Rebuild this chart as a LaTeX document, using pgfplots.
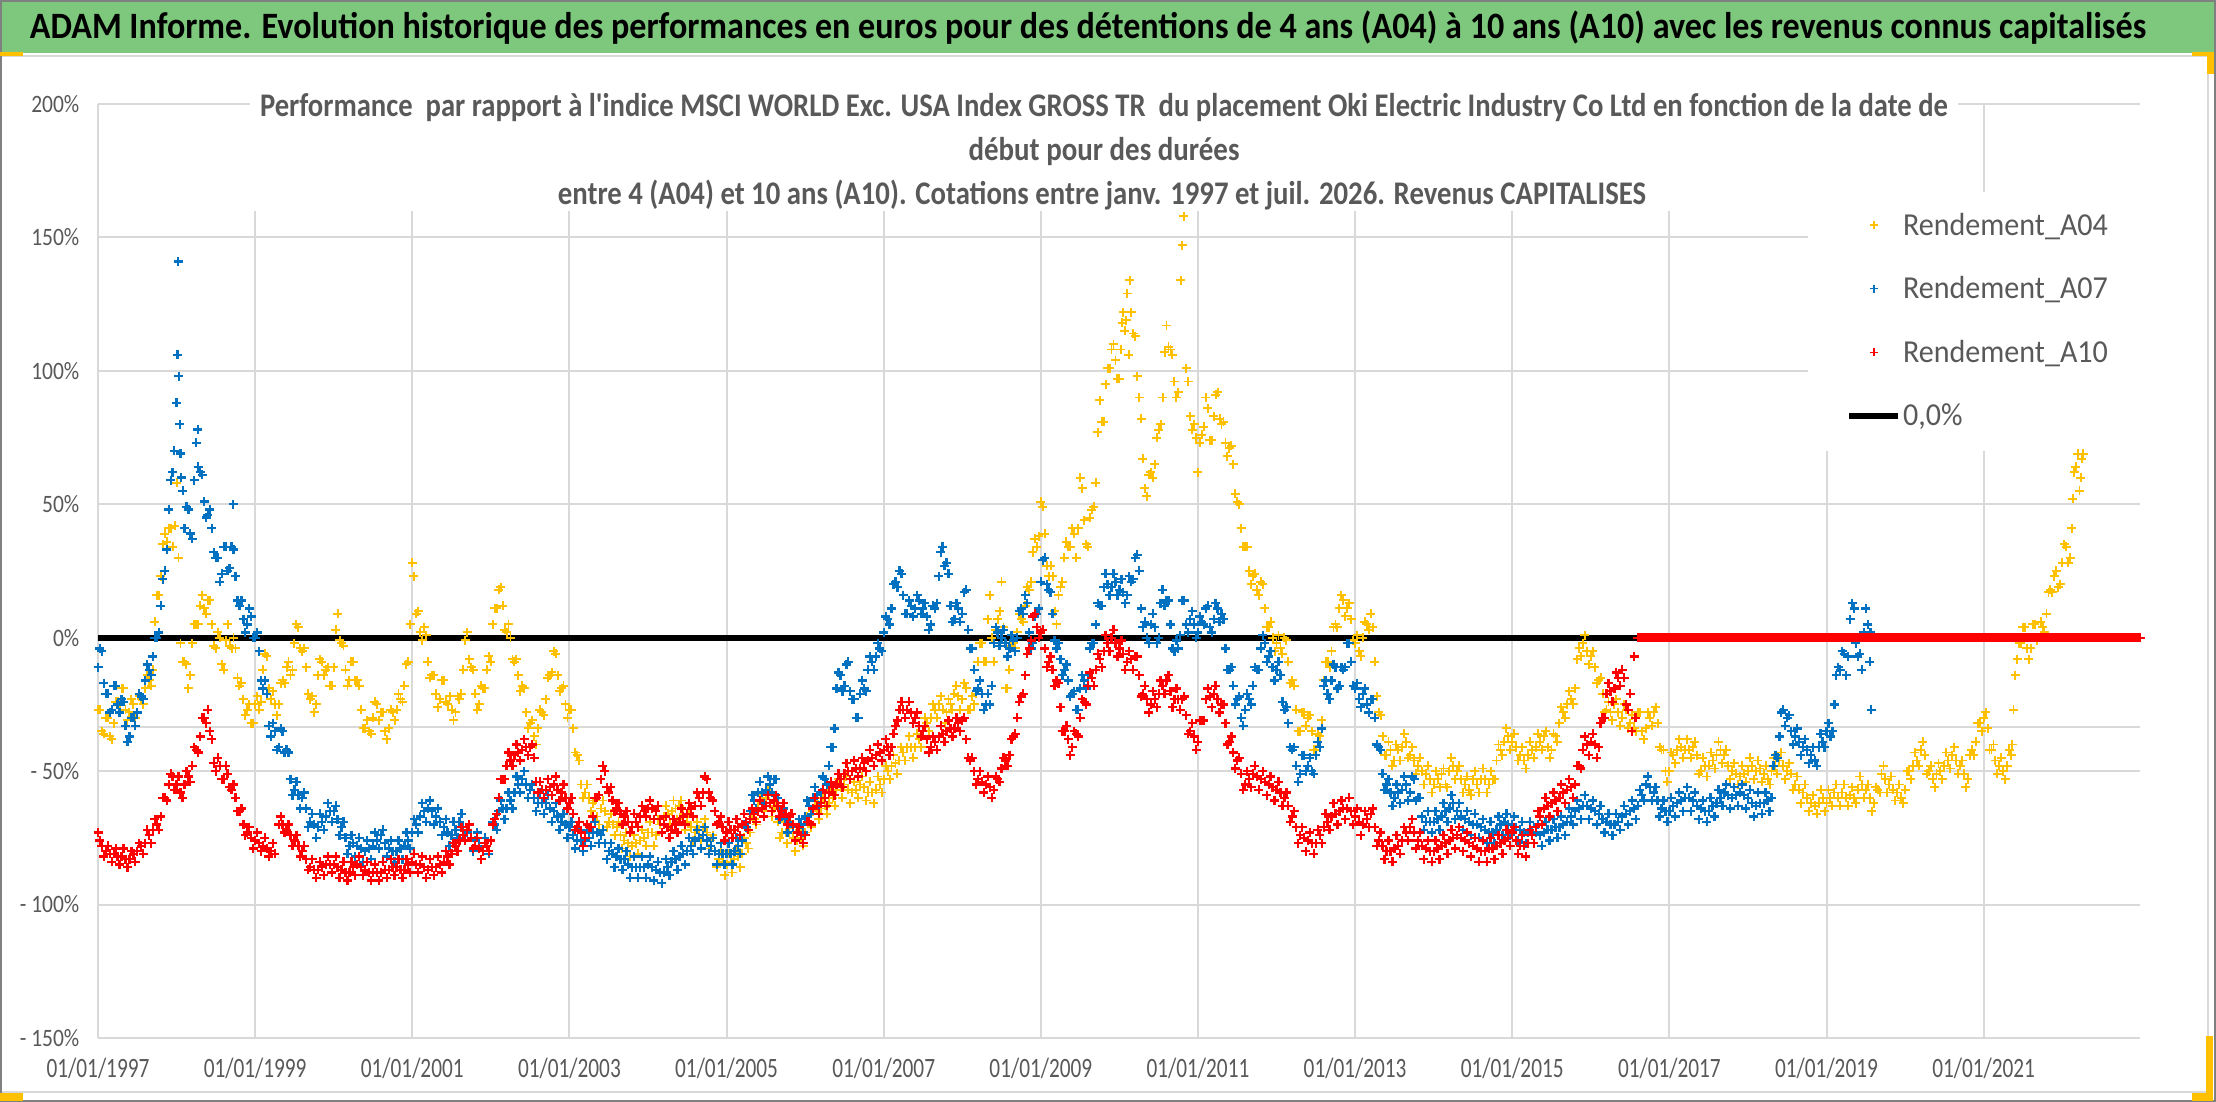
\documentclass[border=0pt]{standalone}
\usepackage{pgfplots}
\pgfplotsset{compat=1.18}
\usepackage{fontspec}
\setmainfont{Carlito}
\newfontfamily\fsub{Carlito}[Ligatures=TeXOff]
\newfontfamily\fxt{Carlito}[FakeStretch=0.76]
\newfontfamily\fyt{Carlito}[FakeStretch=0.86]
\newfontfamily\flg{Carlito}[FakeStretch=0.94]
\definecolor{ygold}{RGB}{255,192,0}
\definecolor{xblue}{RGB}{0,112,192}
\definecolor{xred}{RGB}{255,0,0}
\definecolor{gridgray}{RGB}{217,217,217}
\definecolor{txtgray}{RGB}{89,89,89}
\definecolor{titlegreen}{RGB}{125,200,125}
\definecolor{framegray}{RGB}{128,128,128}
\pgfplotsset{
  mk/.style={only marks, mark=+, mark size=2.25pt, line width=1.15pt,
    legend image code/.code={\path[draw=none,fill=none] (0pt,0pt) -- (24.5pt,0pt); \draw[##1, only marks, line width=0.7pt, mark size=2pt] plot coordinates {(12.5pt,0pt)};}},
  zl/.style={legend image code/.code={\draw[##1] (0pt,0pt) -- (24.5pt,0pt);}},
}
\begin{document}
\begin{tikzpicture}
\useasboundingbox (0,0) rectangle (1108pt,551pt);
\fill[white] (0,0) rectangle (1108pt,551pt);
\draw[gridgray, line width=1pt] (0.5pt,5pt) rectangle (1104pt,523pt);
\fill[titlegreen] (0,524.5pt) rectangle (1108pt,551pt);
\draw[gridgray, line width=1.2pt] (0,523pt) -- (1108pt,523pt);
\draw[framegray, line width=1pt] (0.5pt,0.5pt) rectangle (1107.5pt,550.5pt);
\fill[ygold] (0,523pt) rectangle (11.5pt,525pt);
\fill[ygold] (0,0.5pt) rectangle (11.5pt,4.5pt);
\fill[ygold] (1096pt,523pt) rectangle (1107pt,525pt);
\fill[ygold] (1103.5pt,514pt) rectangle (1107pt,525pt);
\fill[ygold] (1103pt,0.5pt) rectangle (1106.5pt,33pt);
\fill[ygold] (1096pt,0.5pt) rectangle (1106.5pt,4.5pt);
\node[anchor=base, inner sep=0pt] at (544pt,531.5pt) {\resizebox{1058pt}{\height}{\fsub\fontsize{18.6pt}{20pt}\selectfont\bfseries ADAM Informe. Evolution historique des performances en euros pour des détentions de 4 ans (A04) à 10 ans (A10) avec les revenus connus capitalisés}};
\begin{axis}[
  at={(49pt,32pt)}, anchor=south west, scale only axis,
  width=1021pt, height=467pt,
  xmin=1997, xmax=2022.99, ymin=-150, ymax=200,
  clip=false,
  xtick={1997,1999,2001,2003,2005,2007,2009,2011,2013,2015,2017,2019,2021},
  xticklabels={01/01/1997,01/01/1999,01/01/2001,01/01/2003,01/01/2005,01/01/2007,01/01/2009,01/01/2011,01/01/2013,01/01/2015,01/01/2017,01/01/2019,01/01/2021},
  ytick={-150,-100,-50,0,50,100,150,200},
  yticklabels={- 150\%,- 100\%,- 50\%,0\%,50\%,100\%,150\%,200\%},
  grid=major, major grid style={draw=gridgray, line width=1pt},
  axis line style={draw=none}, tick style={draw=none},
  xticklabel style={font=\fxt\fontsize{14pt}{16pt}\selectfont, text=txtgray, yshift=-6.4pt},
  yticklabel style={font=\fyt\fontsize{12.5pt}{14pt}\selectfont, text=txtgray, xshift=-5.8pt},
  legend cell align=left,
  legend style={at={(axis cs:2018.76,167.1)}, anchor=north west, draw=none, fill=none,
    inner xsep=19pt, inner ysep=8.5pt, row sep=15.8pt,
    font=\flg\fontsize{16pt}{18pt}\selectfont,
    nodes={text=txtgray, inner xsep=1pt, inner ysep=0pt, text height=13pt, text depth=3pt}},
]
\fill[white] (axis cs:1998.93,160) rectangle (axis cs:2020.67,203);
\fill[white] (axis cs:2018.76,70) rectangle (axis cs:2023.1,167.1);
\addplot[forget plot, gridgray, line width=1pt] coordinates {(1997,-33.6) (2022.99,-33.6)};
\addplot[forget plot, black, line width=3pt] coordinates {(1997,0) (2022.99,0)};
% Rendement_A04
\addplot[mk, color=ygold, line width=0.95pt] coordinates {
(1997.0,-27) (1997.05,-35) (1997.1,-30) (1997.15,-37) (1997.2,-32) (1997.25,-24) (1997.3,-19) (1997.35,-27) (1997.4,-28) (1997.45,-25)
(1997.5,-28) (1997.55,-23) (1997.6,-19) (1997.65,-16) (1997.7,-12) (1997.75,16) (1997.8,23) (1997.85,39) (1997.9,41) (1997.95,34)
(1998.0,58) (1998.05,-2) (1998.1,-9) (1998.15,-19) (1998.2,-2) (1998.25,5) (1998.3,12) (1998.35,11) (1998.4,14) (1998.45,5)
(1998.5,-4) (1998.55,0) (1998.6,-12) (1998.65,5) (1998.7,-4) (1998.75,-4) (1998.8,-18) (1998.85,-23) (1998.9,-27) (1998.95,-32)
(1999.0,-25) (1999.05,-27) (1999.1,-12) (1999.15,-7) (1999.2,-23) (1999.25,-25) (1999.3,-25) (1999.35,-16) (1999.4,-11) (1999.45,-14)
(1999.5,-2) (1999.55,4) (1999.6,-5) (1999.65,-11) (1999.7,-23) (1999.75,-28) (1999.8,-14) (1999.85,-9) (1999.9,-12) (1999.95,-18)
(2000.0,-11) (2000.05,9) (2000.1,-2) (2000.15,-12) (2000.2,-16) (2000.25,-9) (2000.3,-16) (2000.35,-27) (2000.4,-34) (2000.45,-35)
(2000.5,-30) (2000.55,-25) (2000.6,-28) (2000.65,-35) (2000.7,-34) (2000.75,-28) (2000.8,-27) (2000.85,-23) (2000.9,-18) (2000.95,-9)
(2001.0,28) (2001.02,23) (2001.05,9) (2001.1,2) (2001.15,4) (2001.2,-9) (2001.25,-14) (2001.3,-21) (2001.35,-23) (2001.4,-16)
(2001.45,-25) (2001.5,-27) (2001.55,-28) (2001.6,-23) (2001.65,-12) (2001.7,2) (2001.75,-11) (2001.8,-21) (2001.85,-25) (2001.9,-19)
(2001.95,-12) (2002.0,-9) (2002.05,11) (2002.1,18) (2002.15,12) (2002.2,2) (2002.25,0) (2002.3,-9) (2002.35,-14) (2002.4,-18)
(2002.45,-28) (2002.5,-32) (2002.55,-37) (2002.6,-34) (2002.65,-28) (2002.7,-23) (2002.75,-14) (2002.8,-5) (2002.85,-14) (2002.9,-19)
(2002.95,-25) (2003.0,-27) (2003.05,-34) (2003.1,-44) (2003.15,-55) (2003.2,-58) (2003.25,-60) (2003.3,-62) (2003.35,-67) (2003.4,-64)
(2003.45,-65) (2003.5,-69) (2003.55,-70) (2003.6,-71) (2003.65,-74) (2003.7,-76) (2003.75,-77) (2003.8,-78) (2003.85,-77) (2003.9,-76)
(2003.95,-75) (2004.0,-73) (2004.05,-73) (2004.1,-74) (2004.15,-70) (2004.2,-67) (2004.25,-66) (2004.3,-65) (2004.35,-64) (2004.4,-63)
(2004.45,-66) (2004.5,-69) (2004.55,-71) (2004.6,-73) (2004.65,-72) (2004.7,-71) (2004.75,-73) (2004.8,-76) (2004.85,-80) (2004.9,-83)
(2004.95,-84) (2005.0,-85) (2005.05,-84) (2005.1,-83) (2005.15,-82) (2005.2,-81) (2005.25,-77) (2005.3,-73) (2005.35,-68) (2005.4,-64)
(2005.45,-62) (2005.5,-60) (2005.55,-62) (2005.6,-64) (2005.65,-69) (2005.7,-73) (2005.75,-73) (2005.8,-73) (2005.85,-75) (2005.9,-76)
(2005.95,-75) (2006.0,-73) (2006.05,-69) (2006.1,-65) (2006.15,-64) (2006.2,-64) (2006.25,-63) (2006.3,-62) (2006.35,-60) (2006.4,-57)
(2006.45,-56) (2006.5,-55) (2006.55,-57) (2006.6,-58) (2006.65,-57) (2006.7,-55) (2006.75,-56) (2006.8,-58) (2006.85,-58) (2006.9,-57)
(2006.95,-55) (2007.0,-53) (2007.05,-50) (2007.1,-48) (2007.15,-47) (2007.2,-46) (2007.25,-43) (2007.3,-41) (2007.35,-41) (2007.4,-41)
(2007.45,-38) (2007.5,-35) (2007.55,-32) (2007.6,-30) (2007.65,-27) (2007.7,-25) (2007.75,-27) (2007.8,-28) (2007.85,-25) (2007.9,-21)
(2007.95,-22) (2008.0,-23) (2008.05,-19) (2008.1,-27) (2008.15,-25)
(2008.2,-9) (2008.25,-2) (2008.3,-9) (2008.35,16) (2008.4,-9) (2008.45,7) (2008.5,21) (2008.55,-19) (2008.6,-12) (2008.65,-2)
(2008.7,2) (2008.75,7) (2008.8,12) (2008.85,18) (2008.9,32) (2008.95,34) (2009.0,51) (2009.05,39) (2009.1,23) (2009.15,23)
(2009.2,5) (2009.25,19) (2009.3,30) (2009.35,34) (2009.4,41) (2009.45,30) (2009.5,60) (2009.55,44) (2009.6,34) (2009.65,48)
(2009.7,58) (2009.75,89) (2009.8,81) (2009.85,101) (2009.9,108) (2009.95,104) (2010.0,97) (2010.02,108) (2010.05,122) (2010.07,115)
(2010.1,129) (2010.12,106) (2010.13,134) (2010.15,122) (2010.2,113) (2010.25,90) (2010.3,67) (2010.35,53) (2010.4,62) (2010.45,65)
(2010.5,78) (2010.55,90) (2010.6,117) (2010.65,108) (2010.7,96) (2010.75,92) (2010.78,134) (2010.8,147) (2010.82,158) (2010.85,101)
(2010.9,83) (2010.95,80) (2011.0,62) (2011.05,76) (2011.1,90) (2011.15,74) (2011.2,83) (2011.25,92) (2011.3,80) (2011.35,73)
(2011.4,71) (2011.45,65) (2011.5,51) (2011.55,41) (2011.6,34) (2011.65,25) (2011.7,23) (2011.75,18) (2011.8,21) (2011.85,11)
(2011.9,4) (2011.95,0) (2012.0,-2) (2012.05,-4) (2012.1,0) (2012.15,-9) (2012.2,-16) (2012.25,-27) (2012.3,-35) (2012.35,-28)
(2012.4,-30) (2012.45,-35) (2012.5,-42) (2012.55,-37) (2012.6,-16) (2012.65,-9) (2012.7,-5) (2012.75,5) (2012.8,11) (2012.85,14)
(2012.9,11) (2012.95,7) (2013.0,-2) (2013.05,-5) (2013.1,0) (2013.15,5) (2013.2,9) (2013.25,-9) (2013.3,-28) (2013.35,-37)
(2013.4,-44) (2013.45,-42) (2013.5,-46) (2013.55,-42) (2013.6,-41) (2013.65,-39) (2013.7,-44) (2013.75,-46) (2013.8,-48) (2013.85,-50)
(2013.9,-51) (2013.95,-53) (2014.0,-55) (2014.05,-53) (2014.1,-51) (2014.15,-55) (2014.2,-50) (2014.25,-48) (2014.3,-50) (2014.35,-53)
(2014.4,-55) (2014.45,-57) (2014.5,-53) (2014.55,-55) (2014.6,-53) (2014.65,-53) (2014.7,-55) (2014.75,-53) (2014.8,-46) (2014.85,-42)
(2014.9,-39) (2014.95,-37) (2015.0,-39) (2015.05,-41) (2015.1,-44) (2015.15,-46) (2015.2,-44) (2015.25,-42) (2015.3,-41) (2015.35,-39)
(2015.4,-37) (2015.45,-41) (2015.5,-42) (2015.55,-37) (2015.6,-32) (2015.65,-28) (2015.7,-25) (2015.75,-23) (2015.8,-19) (2015.85,-4)
(2015.9,-2) (2015.95,-5) (2016.0,-7) (2016.05,-11) (2016.1,-16) (2016.15,-21) (2016.2,-27) (2016.25,-28) (2016.3,-25) (2016.35,-28)
(2016.4,-30) (2016.45,-27) (2016.5,-32) (2016.55,-34) (2016.6,-28) (2016.65,-35) (2016.7,-34) (2016.75,-30) (2016.8,-28) (2016.85,-32)
(2016.9,-42) (2016.95,-50) (2017.0,-50) (2017.05,-44) (2017.1,-42) (2017.15,-41) (2017.2,-42) (2017.25,-42) (2017.3,-41) (2017.35,-44)
(2017.4,-50) (2017.45,-48) (2017.5,-48) (2017.55,-46) (2017.6,-44) (2017.65,-42) (2017.7,-44) (2017.75,-48) (2017.8,-50) (2017.85,-51)
(2017.9,-52) (2017.95,-51) (2018.0,-50) (2018.05,-48) (2018.1,-50) (2018.15,-49) (2018.2,-51) (2018.25,-53) (2018.3,-50) (2018.35,-48)
(2018.4,-46) (2018.45,-48) (2018.5,-50) (2018.55,-51) (2018.6,-55) (2018.65,-57) (2018.7,-58) (2018.75,-60) (2018.8,-62) (2018.85,-63)
(2018.9,-62) (2018.95,-60) (2019.0,-62) (2019.05,-60) (2019.1,-58) (2019.15,-60) (2019.2,-58) (2019.25,-60) (2019.3,-59) (2019.35,-60)
(2019.4,-57) (2019.45,-55) (2019.5,-57) (2019.55,-60) (2019.6,-62) (2019.65,-57) (2019.7,-51) (2019.75,-53) (2019.8,-55) (2019.85,-57)
(2019.9,-58) (2019.95,-60) (2020.0,-57) (2020.05,-50) (2020.1,-48) (2020.15,-46) (2020.2,-42) (2020.25,-44) (2020.3,-50) (2020.35,-53)
(2020.4,-51) (2020.45,-50) (2020.5,-48) (2020.55,-46) (2020.6,-44) (2020.65,-46) (2020.7,-48) (2020.75,-51) (2020.8,-53) (2020.85,-42)
(2020.9,-39) (2020.95,-32) (2021.0,-30) (2021.05,-34) (2021.1,-42) (2021.15,-46) (2021.2,-48) (2021.25,-50) (2021.3,-48) (2021.35,-44)
(2021.38,-27) (2021.4,-14) (2021.45,-2) (2021.5,4) (2021.55,-4) (2021.6,-4) (2021.65,5) (2021.7,0) (2021.75,4) (2021.8,9)
(2021.85,18) (2021.9,23) (2021.95,19) (2022.0,28) (2022.05,34) (2022.1,30) (2022.12,41) (2022.15,62) (2022.2,69) (2022.22,55)
(2022.25,67) (2022.27,69)
};
\addlegendentry{Rendement\_A04}
\addplot[mk, color=ygold, line width=0.95pt, forget plot] coordinates {
(1997.025,-27) (1997.075,-36) (1997.125,-30) (1997.175,-38) (1997.225,-24) (1997.275,-25) (1997.325,-19) (1997.375,-31) (1997.425,-23) (1997.475,-30)
(1997.525,-22) (1997.575,-25) (1997.625,-14) (1997.675,-18) (1997.725,6) (1997.775,16) (1997.825,35) (1997.875,36) (1997.925,41) (1997.975,42)
(1998.025,30) (1998.075,-9) (1998.125,-10) (1998.175,-14) (1998.225,5) (1998.275,5) (1998.325,16) (1998.375,9) (1998.425,14) (1998.475,-3)
(1998.525,2) (1998.575,-10) (1998.625,-1) (1998.675,-3) (1998.725,0) (1998.775,-15) (1998.825,-17) (1998.875,-29) (1998.925,-25) (1998.975,-32)
(1999.025,-22) (1999.075,-24) (1999.125,-6) (1999.175,-19) (1999.225,-20) (1999.275,-29) (1999.325,-17) (1999.375,-17) (1999.425,-9) (1999.475,-12)
(1999.525,5) (1999.575,-4) (1999.625,-4) (1999.675,-21) (1999.725,-22) (1999.775,-25) (1999.825,-8) (1999.875,-14) (1999.925,-11) (1999.975,-18)
(2000.025,3) (2000.075,-1) (2000.125,-3) (2000.175,-18) (2000.225,-9) (2000.275,-16) (2000.325,-18) (2000.375,-34) (2000.425,-31) (2000.475,-36)
(2000.525,-24) (2000.575,-31) (2000.625,-28) (2000.675,-38) (2000.725,-27) (2000.775,-31) (2000.825,-21) (2000.875,-24) (2000.925,-10) (2000.975,5)
(2001.075,10) (2001.125,-1) (2001.175,1) (2001.225,-15) (2001.275,-14) (2001.325,-26) (2001.375,-16) (2001.425,-24) (2001.475,-22) (2001.525,-31)
(2001.575,-22) (2001.625,-21) (2001.675,-1) (2001.725,-8) (2001.775,-12) (2001.825,-27) (2001.875,-18) (2001.925,-19) (2001.975,-7)
(2002.025,5) (2002.075,11) (2002.125,19) (2002.175,3) (2002.225,5) (2002.275,-8) (2002.325,-8) (2002.375,-20) (2002.425,-19) (2002.475,-34)
(2002.525,-31) (2002.575,-40) (2002.625,-27) (2002.675,-29) (2002.725,-15) (2002.775,-13) (2002.825,-6) (2002.875,-20) (2002.925,-18) (2002.975,-30)
(2003.025,-27) (2003.075,-43) (2003.125,-46) (2003.175,-60) (2003.225,-55) (2003.275,-65) (2003.325,-61) (2003.375,-70) (2003.425,-61) (2003.475,-71)
(2003.525,-66) (2003.575,-74) (2003.625,-69) (2003.675,-79) (2003.725,-73) (2003.775,-82) (2003.825,-74) (2003.875,-81) (2003.925,-72) (2003.975,-78)
(2004.025,-69) (2004.075,-78) (2004.125,-68) (2004.175,-73) (2004.225,-63) (2004.275,-70) (2004.325,-61) (2004.375,-68) (2004.425,-61) (2004.475,-72)
(2004.525,-66) (2004.575,-76) (2004.625,-69) (2004.675,-76) (2004.725,-68) (2004.775,-79) (2004.825,-74) (2004.875,-86) (2004.925,-80) (2004.975,-89)
(2005.025,-81) (2005.075,-88) (2005.125,-79) (2005.175,-86) (2005.225,-75) (2005.275,-79) (2005.325,-67) (2005.375,-70) (2005.425,-59) (2005.475,-65)
(2005.525,-57) (2005.575,-67) (2005.625,-63) (2005.675,-75) (2005.725,-69) (2005.775,-77) (2005.825,-70) (2005.875,-80) (2005.925,-72) (2005.975,-78)
(2006.025,-67) (2006.075,-71) (2006.125,-61) (2006.175,-68) (2006.225,-60) (2006.275,-66) (2006.325,-57) (2006.375,-63) (2006.425,-53) (2006.475,-60)
(2006.525,-52) (2006.575,-62) (2006.625,-54) (2006.675,-60) (2006.725,-52) (2006.775,-61) (2006.825,-54) (2006.875,-62) (2006.925,-52) (2006.975,-58)
(2007.025,-48) (2007.075,-53) (2007.125,-44) (2007.175,-51) (2007.225,-41) (2007.275,-46) (2007.325,-37) (2007.375,-45) (2007.425,-36) (2007.475,-41)
(2007.525,-30) (2007.575,-35) (2007.625,-25) (2007.675,-30) (2007.725,-22) (2007.775,-32) (2007.825,-23) (2007.875,-27) (2007.925,-18) (2007.975,-27)
(2008.025,-17) (2008.075,-27) (2008.125,-22) (2008.175,-21) (2008.225,-2) (2008.275,-9) (2008.325,7) (2008.375,0) (2008.425,3) (2008.475,10)
(2008.525,4) (2008.575,-19) (2008.625,-3) (2008.675,-4) (2008.725,9) (2008.775,6) (2008.825,19) (2008.875,21) (2008.925,37) (2008.975,38)
(2009.025,49) (2009.075,27) (2009.125,27) (2009.175,10) (2009.225,16) (2009.275,21) (2009.325,36) (2009.375,34) (2009.425,39) (2009.475,41)
(2009.525,56) (2009.575,35) (2009.625,45) (2009.675,49) (2009.725,77) (2009.775,81) (2009.825,95) (2009.875,101) (2009.925,110) (2009.975,97)
(2010.035,118) (2010.085,119) (2010.175,114) (2010.225,98) (2010.275,82) (2010.325,56) (2010.375,61) (2010.425,60) (2010.475,75) (2010.525,80)
(2010.575,107) (2010.625,109) (2010.675,106) (2010.725,90) (2010.875,96) (2010.925,78) (2010.975,75)
(2011.025,73) (2011.075,79) (2011.125,86) (2011.175,74) (2011.225,91) (2011.275,82) (2011.325,81) (2011.375,68) (2011.425,72) (2011.475,54)
(2011.525,50) (2011.575,34) (2011.625,34) (2011.675,20) (2011.725,24) (2011.775,16) (2011.825,20) (2011.875,4) (2011.925,6) (2011.975,-5)
(2012.025,1) (2012.075,-6) (2012.125,-1) (2012.175,-17) (2012.225,-18) (2012.275,-35) (2012.325,-28) (2012.375,-33) (2012.425,-29) (2012.475,-42)
(2012.525,-36) (2012.575,-31) (2012.625,-9) (2012.675,-11) (2012.725,4) (2012.775,4) (2012.825,16) (2012.875,8) (2012.925,13) (2012.975,-1)
(2013.025,1) (2013.075,-7) (2013.125,6) (2013.175,3) (2013.225,4) (2013.275,-22) (2013.325,-29) (2013.375,-44) (2013.425,-39) (2013.475,-48)
(2013.525,-40) (2013.575,-46) (2013.625,-36) (2013.675,-45) (2013.725,-41) (2013.775,-51) (2013.825,-45) (2013.875,-55) (2013.925,-48) (2013.975,-58)
(2014.025,-50) (2014.075,-56) (2014.125,-49) (2014.175,-56) (2014.225,-45) (2014.275,-53) (2014.325,-48) (2014.375,-58) (2014.425,-52) (2014.475,-59)
(2014.525,-50) (2014.575,-58) (2014.625,-49) (2014.675,-58) (2014.725,-50) (2014.775,-53) (2014.825,-40) (2014.875,-44) (2014.925,-34) (2014.975,-42)
(2015.025,-36) (2015.075,-46) (2015.125,-41) (2015.175,-49) (2015.225,-39) (2015.275,-45) (2015.325,-36) (2015.375,-42) (2015.425,-35) (2015.475,-45)
(2015.525,-36) (2015.575,-39) (2015.625,-26) (2015.675,-30) (2015.725,-20) (2015.775,-25) (2015.825,-8) (2015.875,-7) (2015.925,1) (2015.975,-10)
(2016.025,-5) (2016.075,-17) (2016.125,-15) (2016.175,-28) (2016.225,-24) (2016.275,-31) (2016.325,-23) (2016.375,-33) (2016.425,-25) (2016.475,-34)
(2016.525,-29) (2016.575,-35) (2016.625,-28) (2016.675,-38) (2016.725,-28) (2016.775,-33) (2016.825,-26) (2016.875,-41) (2016.925,-42) (2016.975,-54)
(2017.025,-43) (2017.075,-47) (2017.125,-38) (2017.175,-45) (2017.225,-38) (2017.275,-45) (2017.325,-39) (2017.375,-51) (2017.425,-45) (2017.475,-52)
(2017.525,-43) (2017.575,-49) (2017.625,-39) (2017.675,-47) (2017.725,-42) (2017.775,-53) (2017.825,-47) (2017.875,-55) (2017.925,-48) (2017.975,-54)
(2018.025,-45) (2018.075,-53) (2018.125,-46) (2018.175,-54) (2018.225,-48) (2018.275,-55) (2018.325,-45) (2018.375,-51) (2018.425,-43) (2018.475,-53)
(2018.525,-47) (2018.575,-57) (2018.625,-52) (2018.675,-62) (2018.725,-55) (2018.775,-65) (2018.825,-59) (2018.875,-66) (2018.925,-57) (2018.975,-65)
(2019.025,-57) (2019.075,-63) (2019.125,-55) (2019.175,-63) (2019.225,-55) (2019.275,-63) (2019.325,-56) (2019.375,-62) (2019.425,-52) (2019.475,-60)
(2019.525,-55) (2019.575,-65) (2019.625,-56) (2019.675,-58) (2019.725,-48) (2019.775,-58) (2019.825,-52) (2019.875,-61) (2019.925,-55) (2019.975,-62)
(2020.025,-50) (2020.075,-53) (2020.125,-43) (2020.175,-48) (2020.225,-39) (2020.275,-51) (2020.325,-48) (2020.375,-56) (2020.425,-47) (2020.475,-53)
(2020.525,-43) (2020.575,-49) (2020.625,-41) (2020.675,-51) (2020.725,-46) (2020.775,-56) (2020.825,-44) (2020.875,-44) (2020.925,-32) (2020.975,-35)
(2021.025,-28) (2021.075,-42) (2021.125,-40) (2021.175,-51) (2021.225,-45) (2021.275,-53) (2021.325,-42) (2021.365,-40) (2021.425,-8) (2021.475,-2)
(2021.525,4) (2021.575,-8) (2021.625,5) (2021.675,-1) (2021.725,6) (2021.775,2) (2021.825,17) (2021.875,17) (2021.925,25) (2021.975,20)
(2022.025,35) (2022.075,28) (2022.135,52) (2022.175,64) (2022.235,60)
};
% Rendement_A07
\addplot[mk, color=xblue] coordinates {
(1997.0,-11) (1997.05,-5) (1997.1,-21) (1997.15,-28) (1997.2,-18) (1997.25,-25) (1997.3,-23) (1997.35,-33) (1997.4,-37) (1997.45,-30)
(1997.5,-28) (1997.55,-22) (1997.6,-16) (1997.65,-12) (1997.7,-7) (1997.75,0) (1997.8,12) (1997.85,25) (1997.9,48) (1997.95,62)
(1997.97,70) (1998.0,88) (1998.01,106) (1998.02,141) (1998.03,98) (1998.05,69) (1998.08,55) (1998.1,41) (1998.15,48) (1998.2,37)
(1998.25,73) (1998.27,78) (1998.3,62) (1998.35,51) (1998.4,46) (1998.45,41) (1998.5,30) (1998.55,21) (1998.6,34) (1998.65,25)
(1998.7,34) (1998.72,50) (1998.75,23) (1998.8,12) (1998.85,7) (1998.9,5) (1998.95,8) (1999.0,0) (1999.05,-5) (1999.1,-19)
(1999.15,-21) (1999.2,-37) (1999.25,-35) (1999.3,-41) (1999.35,-35) (1999.4,-42) (1999.45,-53) (1999.5,-57) (1999.55,-59) (1999.6,-60)
(1999.65,-64) (1999.7,-69) (1999.75,-70) (1999.8,-71) (1999.85,-69) (1999.9,-67) (1999.95,-65) (2000.0,-65) (2000.05,-68) (2000.1,-71)
(2000.15,-75) (2000.2,-78) (2000.25,-77) (2000.3,-78) (2000.35,-79) (2000.4,-80) (2000.45,-79) (2000.5,-78) (2000.55,-76) (2000.6,-74)
(2000.65,-77) (2000.7,-79) (2000.75,-80) (2000.8,-80) (2000.85,-79) (2000.9,-78) (2000.95,-76) (2001.0,-73) (2001.05,-70) (2001.1,-67)
(2001.15,-65) (2001.2,-64) (2001.25,-65) (2001.3,-67) (2001.35,-69) (2001.4,-71) (2001.45,-73) (2001.5,-74) (2001.55,-72) (2001.6,-69)
(2001.65,-71) (2001.7,-73) (2001.75,-75) (2001.8,-76) (2001.85,-78) (2001.9,-80) (2001.95,-78) (2002.0,-76) (2002.05,-70) (2002.1,-65)
(2002.15,-64) (2002.2,-64) (2002.25,-61) (2002.3,-58) (2002.35,-55) (2002.4,-53) (2002.45,-55) (2002.5,-57) (2002.55,-60) (2002.6,-62)
(2002.65,-62) (2002.7,-62) (2002.75,-64) (2002.8,-65) (2002.85,-67) (2002.9,-69) (2002.95,-70) (2003.0,-71) (2003.05,-74) (2003.1,-76)
(2003.15,-76) (2003.2,-76) (2003.25,-75) (2003.3,-73) (2003.35,-73) (2003.4,-74) (2003.45,-77) (2003.5,-80) (2003.55,-81) (2003.6,-82)
(2003.65,-83) (2003.7,-83) (2003.75,-85) (2003.8,-86) (2003.85,-86) (2003.9,-86) (2003.95,-86) (2004.0,-85) (2004.05,-86) (2004.1,-87)
(2004.15,-88) (2004.2,-88) (2004.25,-86) (2004.3,-84) (2004.35,-83) (2004.4,-82) (2004.45,-81) (2004.5,-80) (2004.55,-78) (2004.6,-76)
(2004.65,-75) (2004.7,-74) (2004.75,-76) (2004.8,-78) (2004.85,-80) (2004.9,-81) (2004.95,-81) (2005.0,-81) (2005.05,-81) (2005.1,-80)
(2005.15,-78) (2005.2,-76) (2005.25,-71) (2005.3,-65) (2005.35,-61) (2005.4,-58) (2005.45,-58) (2005.5,-57) (2005.55,-55) (2005.6,-53)
(2005.65,-60) (2005.7,-67) (2005.75,-68) (2005.8,-69) (2005.85,-71) (2005.9,-73) (2005.95,-70) (2006.0,-67) (2006.05,-63) (2006.1,-60)
(2006.15,-59) (2006.2,-58) (2006.25,-53) (2006.3,-48) (2006.35,-41) (2006.4,-19) (2006.45,-14) (2006.5,-18) (2006.55,-9) (2006.6,-23) (2006.65,-30)
(2006.7,-21) (2006.75,-19) (2006.8,-12) (2006.85,-9) (2006.9,-7) (2006.95,-4) (2007.0,2) (2007.05,7) (2007.1,11) (2007.15,21)
(2007.2,25) (2007.25,16) (2007.3,9) (2007.35,12) (2007.4,11) (2007.45,14) (2007.5,11) (2007.55,8) (2007.6,5) (2007.65,11)
(2007.7,23) (2007.75,34) (2007.8,28) (2007.85,12) (2007.9,7) (2007.95,11) (2008.0,9) (2008.05,18) (2008.1,-4) (2008.15,-12)
(2008.2,-19) (2008.25,-21) (2008.3,-25) (2008.35,-25) (2008.4,-2) (2008.45,2) (2008.5,0) (2008.55,-2) (2008.6,-4) (2008.65,-1)
(2008.7,0) (2008.75,11) (2008.8,16) (2008.85,2) (2008.9,-2) (2008.95,9) (2009.0,21) (2009.05,30) (2009.1,18) (2009.15,9)
(2009.2,-4) (2009.25,-8) (2009.3,-12) (2009.35,-16) (2009.4,-21) (2009.45,-27) (2009.5,-19) (2009.55,-16) (2009.6,-14) (2009.65,-2)
(2009.7,5) (2009.75,12) (2009.8,19) (2009.85,20) (2009.9,19) (2009.95,21) (2010.0,18) (2010.05,17) (2010.1,16) (2010.15,21)
(2010.2,30) (2010.25,25) (2010.3,4) (2010.35,0) (2010.4,5) (2010.45,4) (2010.5,0) (2010.55,18) (2010.6,14) (2010.65,5)
(2010.7,-5) (2010.75,-4) (2010.8,14) (2010.85,5) (2010.9,7) (2010.95,5) (2011.0,2) (2011.05,6) (2011.1,11) (2011.15,4)
(2011.2,7) (2011.25,11) (2011.3,9) (2011.35,-4) (2011.4,-12) (2011.45,-18) (2011.5,-23) (2011.55,-30) (2011.6,-27) (2011.65,-23)
(2011.7,-18) (2011.75,-12) (2011.8,-4) (2011.85,-2) (2011.9,-7) (2011.95,-11) (2012.0,-12) (2012.05,-14) (2012.1,-27) (2012.15,-32)
(2012.2,-42) (2012.25,-48) (2012.3,-51) (2012.35,-44) (2012.4,-48) (2012.45,-50) (2012.5,-44) (2012.55,-41) (2012.6,-18) (2012.65,-21)
(2012.7,-16) (2012.75,-11) (2012.8,-18) (2012.85,-12) (2012.9,-2) (2012.95,-9) (2013.0,-19) (2013.05,-23) (2013.1,-21) (2013.15,-25)
(2013.2,-23) (2013.25,-30) (2013.3,-41) (2013.35,-51) (2013.4,-55) (2013.45,-58) (2013.5,-60) (2013.55,-58) (2013.6,-57) (2013.65,-55)
(2013.7,-58) (2013.75,-53) (2013.8,-60) (2013.85,-67) (2013.9,-69) (2013.95,-69) (2014.0,-69) (2014.05,-68) (2014.1,-67) (2014.15,-65)
(2014.2,-64) (2014.25,-62) (2014.3,-65) (2014.35,-67) (2014.4,-68) (2014.45,-69) (2014.5,-70) (2014.55,-70) (2014.6,-71) (2014.65,-72)
(2014.7,-73) (2014.75,-73) (2014.8,-72) (2014.85,-70) (2014.9,-69) (2014.95,-70) (2015.0,-70) (2015.05,-71) (2015.1,-72) (2015.15,-73)
(2015.2,-73) (2015.25,-73) (2015.3,-73) (2015.35,-74) (2015.4,-73) (2015.45,-72) (2015.5,-72) (2015.55,-71) (2015.6,-71) (2015.65,-70)
(2015.7,-69) (2015.75,-67) (2015.8,-65) (2015.85,-64) (2015.9,-63) (2015.95,-63) (2016.0,-64) (2016.05,-65) (2016.1,-66) (2016.15,-68)
(2016.2,-69) (2016.25,-70) (2016.3,-70) (2016.35,-69) (2016.4,-67) (2016.45,-66) (2016.5,-65) (2016.55,-64) (2016.6,-63) (2016.65,-59)
(2016.7,-55) (2016.75,-56) (2016.8,-58) (2016.85,-61) (2016.9,-64) (2016.95,-65) (2017.0,-65) (2017.05,-63) (2017.1,-62) (2017.15,-61)
(2017.2,-60) (2017.25,-60) (2017.3,-61) (2017.35,-63) (2017.4,-64) (2017.45,-65) (2017.5,-65) (2017.55,-63) (2017.6,-62) (2017.65,-60)
(2017.7,-58) (2017.75,-59) (2017.8,-60) (2017.85,-59) (2017.9,-58) (2017.95,-59) (2018.0,-60) (2018.05,-62) (2018.1,-63) (2018.15,-62)
(2018.2,-62) (2018.25,-61) (2018.3,-60) (2018.35,-44) (2018.4,-37) (2018.45,-27) (2018.5,-30) (2018.55,-35) (2018.6,-37) (2018.65,-39)
(2018.7,-41) (2018.75,-42) (2018.8,-44) (2018.85,-46) (2018.9,-41) (2018.95,-39) (2019.0,-35) (2019.05,-37) (2019.1,-25) (2019.15,-11)
(2019.2,-5) (2019.25,-14) (2019.3,7) (2019.35,11) (2019.4,-7) (2019.45,-12) (2019.5,11) (2019.55,-9) (2019.57,-27)
};
\addlegendentry{Rendement\_A07}
\addplot[mk, color=xblue, forget plot] coordinates {
(1997.025,-4) (1997.075,-17) (1997.125,-21) (1997.175,-27) (1997.225,-18) (1997.275,-28) (1997.325,-24) (1997.375,-39) (1997.425,-30) (1997.475,-33)
(1997.525,-21) (1997.575,-23) (1997.625,-10) (1997.675,-14) (1997.725,0) (1997.775,2) (1997.825,22) (1997.875,33) (1997.925,59) (1998.04,80) (1998.06,60)
(1998.125,49) (1998.175,39) (1998.225,59) (1998.275,64) (1998.325,61) (1998.375,45) (1998.425,48) (1998.475,32) (1998.525,30) (1998.575,24)
(1998.625,34) (1998.675,26) (1998.725,33) (1998.775,14) (1998.825,14) (1998.875,2) (1998.925,11) (1998.975,0)
(1999.025,2) (1999.075,-16) (1999.125,-16) (1999.175,-33) (1999.225,-32) (1999.275,-42) (1999.325,-34) (1999.375,-43) (1999.425,-43) (1999.475,-59)
(1999.525,-54) (1999.575,-64) (1999.625,-58) (1999.675,-71) (1999.725,-66) (1999.775,-75) (1999.825,-66) (1999.875,-72) (1999.925,-62) (1999.975,-69)
(2000.025,-63) (2000.075,-74) (2000.125,-69) (2000.175,-81) (2000.225,-74) (2000.275,-82) (2000.325,-75) (2000.375,-84) (2000.425,-76) (2000.475,-83)
(2000.525,-73) (2000.575,-79) (2000.625,-72) (2000.675,-82) (2000.725,-76) (2000.775,-84) (2000.825,-76) (2000.875,-83) (2000.925,-73) (2000.975,-79)
(2001.025,-68) (2001.075,-73) (2001.125,-62) (2001.175,-69) (2001.225,-61) (2001.275,-70) (2001.325,-64) (2001.375,-74) (2001.425,-68) (2001.475,-78)
(2001.525,-69) (2001.575,-75) (2001.625,-66) (2001.675,-76) (2001.725,-70) (2001.775,-80) (2001.825,-73) (2001.875,-83) (2001.925,-75) (2001.975,-81)
(2002.025,-69) (2002.075,-72) (2002.125,-61) (2002.175,-68) (2002.225,-58) (2002.275,-64) (2002.325,-52) (2002.375,-58) (2002.425,-50) (2002.475,-60)
(2002.525,-55) (2002.575,-65) (2002.625,-58) (2002.675,-66) (2002.725,-59) (2002.775,-69) (2002.825,-62) (2002.875,-72) (2002.925,-66) (2002.975,-75)
(2003.025,-69) (2003.075,-79) (2003.125,-72) (2003.175,-80) (2003.225,-72) (2003.275,-78) (2003.325,-69) (2003.375,-77) (2003.425,-72) (2003.475,-83)
(2003.525,-77) (2003.575,-86) (2003.625,-79) (2003.675,-87) (2003.725,-80) (2003.775,-90) (2003.825,-82) (2003.875,-90) (2003.925,-82) (2003.975,-90)
(2004.025,-82) (2004.075,-91) (2004.125,-84) (2004.175,-92) (2004.225,-83) (2004.275,-89) (2004.325,-80) (2004.375,-87) (2004.425,-78) (2004.475,-85)
(2004.525,-75) (2004.575,-81) (2004.625,-72) (2004.675,-79) (2004.725,-71) (2004.775,-81) (2004.825,-75) (2004.875,-85) (2004.925,-77) (2004.975,-85)
(2005.025,-77) (2005.075,-85) (2005.125,-75) (2005.175,-81) (2005.225,-70) (2005.275,-72) (2005.325,-59) (2005.375,-64) (2005.425,-54) (2005.475,-62)
(2005.525,-52) (2005.575,-58) (2005.625,-53) (2005.675,-68) (2005.725,-64) (2005.775,-73) (2005.825,-66) (2005.875,-76) (2005.925,-68) (2005.975,-73)
(2006.025,-61) (2006.075,-66) (2006.125,-56) (2006.175,-63) (2006.225,-52) (2006.275,-55) (2006.325,-41) (2006.375,-34) (2006.425,-13) (2006.475,-20)
(2006.525,-10) (2006.575,-20) (2006.625,-23) (2006.675,-30) (2006.725,-16) (2006.775,-20) (2006.825,-7) (2006.875,-12) (2006.925,-2) (2006.975,-5)
(2007.025,8) (2007.075,5) (2007.125,20) (2007.175,19) (2007.225,24) (2007.275,9) (2007.325,14) (2007.375,8) (2007.425,16) (2007.475,9)
(2007.525,13) (2007.575,3) (2007.625,12) (2007.675,13) (2007.725,32) (2007.775,27) (2007.825,24) (2007.875,6) (2007.925,13) (2007.975,6)
(2008.025,17) (2008.075,3) (2008.125,-4) (2008.175,-20) (2008.225,-16) (2008.275,-27) (2008.325,-21) (2008.375,-18) (2008.425,4) (2008.475,-3)
(2008.525,3) (2008.575,-7) (2008.625,1) (2008.675,-5) (2008.725,10) (2008.775,9) (2008.825,13) (2008.875,-4) (2008.925,8) (2008.975,11)
(2009.025,29) (2009.075,20) (2009.125,17) (2009.175,-1) (2009.225,-2) (2009.275,-14) (2009.325,-10) (2009.375,-22) (2009.425,-20) (2009.475,-27)
(2009.525,-14) (2009.575,-19) (2009.625,-4) (2009.675,-2) (2009.725,13) (2009.775,12) (2009.825,24) (2009.875,16) (2009.925,24) (2009.975,16)
(2010.025,22) (2010.075,13) (2010.125,23) (2010.175,22) (2010.225,31) (2010.275,11) (2010.325,6) (2010.375,-2) (2010.425,9) (2010.475,-2)
(2010.525,13) (2010.575,12) (2010.625,14) (2010.675,-4) (2010.725,-1) (2010.775,1) (2010.825,14) (2010.875,2) (2010.925,10) (2010.975,0)
(2011.025,8) (2011.075,5) (2011.125,12) (2011.175,2) (2011.225,13) (2011.275,6) (2011.325,7) (2011.375,-12) (2011.425,-11) (2011.475,-25)
(2011.525,-22) (2011.575,-33) (2011.625,-21) (2011.675,-25) (2011.725,-11) (2011.775,-12) (2011.825,1) (2011.875,-9) (2011.925,-5) (2011.975,-16)
(2012.025,-9) (2012.075,-24) (2012.125,-26) (2012.175,-41) (2012.225,-41) (2012.275,-54) (2012.325,-44) (2012.375,-50) (2012.425,-45) (2012.475,-51)
(2012.525,-39) (2012.575,-34) (2012.625,-16) (2012.675,-23) (2012.725,-10) (2012.775,-19) (2012.825,-11) (2012.875,-11) (2012.925,-2) (2012.975,-18)
(2013.025,-17) (2013.075,-26) (2013.125,-19) (2013.175,-28) (2013.225,-23) (2013.275,-40) (2013.325,-42) (2013.375,-57) (2013.425,-53) (2013.475,-63)
(2013.525,-55) (2013.575,-62) (2013.625,-52) (2013.675,-61) (2013.725,-52) (2013.775,-61) (2013.825,-60) (2013.875,-72) (2013.925,-65) (2013.975,-73)
(2014.025,-65) (2014.075,-72) (2014.125,-62) (2014.175,-69) (2014.225,-59) (2014.275,-68) (2014.325,-62) (2014.375,-72) (2014.425,-65) (2014.475,-74)
(2014.525,-66) (2014.575,-75) (2014.625,-68) (2014.675,-77) (2014.725,-69) (2014.775,-77) (2014.825,-67) (2014.875,-74) (2014.925,-66) (2014.975,-74)
(2015.025,-67) (2015.075,-76) (2015.125,-69) (2015.175,-77) (2015.225,-69) (2015.275,-77) (2015.325,-70) (2015.375,-78) (2015.425,-69) (2015.475,-76)
(2015.525,-68) (2015.575,-75) (2015.625,-67) (2015.675,-74) (2015.725,-64) (2015.775,-70) (2015.825,-61) (2015.875,-68) (2015.925,-59) (2015.975,-68)
(2016.025,-61) (2016.075,-70) (2016.125,-63) (2016.175,-73) (2016.225,-66) (2016.275,-74) (2016.325,-66) (2016.375,-72) (2016.425,-63) (2016.475,-70)
(2016.525,-61) (2016.575,-68) (2016.625,-57) (2016.675,-61) (2016.725,-52) (2016.775,-61) (2016.825,-56) (2016.875,-67) (2016.925,-61) (2016.975,-69)
(2017.025,-60) (2017.075,-67) (2017.125,-58) (2017.175,-65) (2017.225,-56) (2017.275,-65) (2017.325,-58) (2017.375,-68) (2017.425,-61) (2017.475,-69)
(2017.525,-60) (2017.575,-67) (2017.625,-57) (2017.675,-63) (2017.725,-55) (2017.775,-64) (2017.825,-56) (2017.875,-63) (2017.925,-55) (2017.975,-64)
(2018.025,-57) (2018.075,-67) (2018.125,-58) (2018.175,-66) (2018.225,-58) (2018.275,-65) (2018.325,-48) (2018.375,-45) (2018.425,-28) (2018.475,-33)
(2018.525,-29) (2018.575,-40) (2018.625,-34) (2018.675,-44) (2018.725,-38) (2018.775,-47) (2018.825,-41) (2018.875,-48) (2018.925,-36) (2018.975,-41)
(2019.025,-32) (2019.075,-35) (2019.125,-14) (2019.175,-12) (2019.225,-6) (2019.275,-7) (2019.325,13) (2019.375,-2) (2019.425,-6) (2019.475,2)
(2019.525,5) (2019.56,2)
};
% Rendement_A10
\addplot[mk, color=xred] coordinates {
(1997.0,-73) (1997.05,-78) (1997.1,-80) (1997.15,-81) (1997.2,-81) (1997.25,-82) (1997.3,-82) (1997.35,-83) (1997.4,-83) (1997.45,-81)
(1997.5,-80) (1997.55,-78) (1997.6,-77) (1997.65,-74) (1997.7,-72) (1997.75,-70) (1997.8,-67) (1997.85,-60) (1997.9,-55) (1997.95,-52)
(1998.0,-55) (1998.05,-58) (1998.1,-55) (1998.15,-52) (1998.2,-48) (1998.25,-42) (1998.3,-37) (1998.35,-30) (1998.4,-27) (1998.45,-38)
(1998.5,-50) (1998.55,-48) (1998.6,-53) (1998.65,-51) (1998.7,-57) (1998.75,-60) (1998.8,-65) (1998.85,-70) (1998.9,-73) (1998.95,-75)
(1999.0,-76) (1999.05,-77) (1999.1,-78) (1999.15,-79) (1999.2,-80) (1999.25,-81) (1999.3,-70) (1999.35,-70) (1999.4,-72) (1999.45,-74)
(1999.5,-76) (1999.55,-78) (1999.6,-80) (1999.65,-83) (1999.7,-86) (1999.75,-87) (1999.8,-87) (1999.85,-86) (1999.9,-85) (1999.95,-85)
(2000.0,-85) (2000.05,-86) (2000.1,-87) (2000.15,-88) (2000.2,-88) (2000.25,-86) (2000.3,-85) (2000.35,-86) (2000.4,-87) (2000.45,-88)
(2000.5,-88) (2000.55,-88) (2000.6,-88) (2000.65,-87) (2000.7,-87) (2000.75,-86) (2000.8,-86) (2000.85,-87) (2000.9,-87) (2000.95,-85)
(2001.0,-84) (2001.05,-85) (2001.1,-85) (2001.15,-86) (2001.2,-87) (2001.25,-86) (2001.3,-86) (2001.35,-85) (2001.4,-84) (2001.45,-82)
(2001.5,-81) (2001.55,-78) (2001.6,-76) (2001.65,-74) (2001.7,-72) (2001.75,-75) (2001.8,-78) (2001.85,-79) (2001.9,-80) (2001.95,-78)
(2002.0,-76) (2002.05,-68) (2002.1,-60) (2002.15,-53) (2002.2,-48) (2002.25,-46) (2002.3,-44) (2002.35,-43) (2002.4,-42) (2002.45,-41)
(2002.5,-41) (2002.55,-45) (2002.6,-58) (2002.65,-57) (2002.7,-57) (2002.75,-56) (2002.8,-55) (2002.85,-57) (2002.9,-58) (2002.95,-60)
(2003.0,-62) (2003.05,-66) (2003.1,-71) (2003.15,-73) (2003.2,-75) (2003.25,-71) (2003.3,-67) (2003.35,-60) (2003.4,-53) (2003.45,-50)
(2003.5,-58) (2003.55,-61) (2003.6,-64) (2003.65,-66) (2003.7,-67) (2003.75,-69) (2003.8,-71) (2003.85,-69) (2003.9,-67) (2003.95,-65)
(2004.0,-64) (2004.05,-64) (2004.1,-65) (2004.15,-68) (2004.2,-70) (2004.25,-71) (2004.3,-72) (2004.35,-70) (2004.4,-69) (2004.45,-67)
(2004.5,-66) (2004.55,-64) (2004.6,-63) (2004.65,-60) (2004.7,-58) (2004.75,-53) (2004.8,-60) (2004.85,-65) (2004.9,-69) (2004.95,-71)
(2005.0,-73) (2005.05,-72) (2005.1,-72) (2005.15,-71) (2005.2,-70) (2005.25,-69) (2005.3,-68) (2005.35,-66) (2005.4,-65) (2005.45,-64)
(2005.5,-63) (2005.55,-62) (2005.6,-61) (2005.65,-63) (2005.7,-65) (2005.75,-66) (2005.8,-67) (2005.85,-70) (2005.9,-73) (2005.95,-74)
(2006.0,-74) (2006.05,-69) (2006.1,-64) (2006.15,-63) (2006.2,-62) (2006.25,-60) (2006.3,-58) (2006.35,-56) (2006.4,-55) (2006.45,-53)
(2006.5,-51) (2006.55,-50) (2006.6,-50) (2006.65,-49) (2006.7,-49) (2006.75,-47) (2006.8,-46) (2006.85,-45) (2006.9,-44) (2006.95,-43)
(2007.0,-42) (2007.05,-41) (2007.1,-41) (2007.15,-33) (2007.2,-27) (2007.25,-27) (2007.3,-27) (2007.35,-28) (2007.4,-30) (2007.45,-33)
(2007.5,-35) (2007.55,-38) (2007.6,-41) (2007.65,-39) (2007.7,-37) (2007.75,-36) (2007.8,-35) (2007.85,-34) (2007.9,-34) (2007.95,-32)
(2008.0,-31) (2008.05,-38) (2008.1,-46) (2008.15,-50) (2008.2,-53) (2008.25,-54) (2008.3,-55) (2008.35,-56) (2008.4,-57) (2008.45,-53)
(2008.5,-49) (2008.55,-46) (2008.6,-44) (2008.65,-37) (2008.7,-30) (2008.75,-22) (2008.8,-14) (2008.85,-4) (2008.9,8) (2008.95,4)
(2009.0,2) (2009.05,-4) (2009.1,-9) (2009.15,-12) (2009.2,-16) (2009.25,-26) (2009.3,-35) (2009.35,-38) (2009.4,-41) (2009.45,-36)
(2009.5,-30) (2009.55,-24) (2009.6,-18) (2009.65,-15) (2009.7,-12) (2009.75,-8) (2009.8,-5) (2009.85,-2) (2009.9,0) (2009.95,-2)
(2010.0,-4) (2010.05,-6) (2010.1,-9) (2010.15,-8) (2010.2,-7) (2010.25,-14) (2010.3,-21) (2010.35,-23) (2010.4,-25) (2010.45,-23)
(2010.5,-21) (2010.55,-18) (2010.6,-16) (2010.65,-20) (2010.7,-23) (2010.75,-23) (2010.8,-23) (2010.85,-29) (2010.9,-35) (2010.95,-37)
(2011.0,-39) (2011.05,-31) (2011.1,-23) (2011.15,-22) (2011.2,-21) (2011.25,-23) (2011.3,-25) (2011.35,-32) (2011.4,-39) (2011.45,-43)
(2011.5,-46) (2011.55,-51) (2011.6,-55) (2011.65,-53) (2011.7,-51) (2011.75,-52) (2011.8,-53) (2011.85,-54) (2011.9,-55) (2011.95,-56)
(2012.0,-57) (2012.05,-58) (2012.1,-60) (2012.15,-63) (2012.2,-67) (2012.25,-71) (2012.3,-74) (2012.35,-75) (2012.4,-76) (2012.45,-77)
(2012.5,-77) (2012.55,-74) (2012.6,-71) (2012.65,-69) (2012.7,-67) (2012.75,-66) (2012.8,-65) (2012.85,-64) (2012.9,-64) (2012.95,-65)
(2013.0,-67) (2013.05,-69) (2013.1,-70) (2013.15,-68) (2013.2,-66) (2013.25,-71) (2013.3,-76) (2013.35,-78) (2013.4,-80) (2013.45,-80)
(2013.5,-79) (2013.55,-78) (2013.6,-76) (2013.65,-73) (2013.7,-71) (2013.75,-73) (2013.8,-76) (2013.85,-78) (2013.9,-79) (2013.95,-80)
(2014.0,-80) (2014.05,-79) (2014.1,-78) (2014.15,-77) (2014.2,-76) (2014.25,-75) (2014.3,-74) (2014.35,-75) (2014.4,-76) (2014.45,-77)
(2014.5,-78) (2014.55,-79) (2014.6,-80) (2014.65,-80) (2014.7,-79) (2014.75,-79) (2014.8,-78) (2014.85,-77) (2014.9,-76) (2014.95,-75)
(2015.0,-73) (2015.05,-76) (2015.1,-78) (2015.15,-78) (2015.2,-77) (2015.25,-74) (2015.3,-71) (2015.35,-67) (2015.4,-64) (2015.45,-63)
(2015.5,-62) (2015.55,-61) (2015.6,-60) (2015.65,-58) (2015.7,-57) (2015.75,-56) (2015.8,-55) (2015.85,-48) (2015.9,-42) (2015.95,-40)
(2016.0,-39) (2016.05,-40) (2016.1,-41) (2016.15,-30) (2016.2,-21) (2016.25,-20) (2016.3,-19) (2016.35,-15) (2016.4,-12) (2016.45,-25)
(2016.5,-21) (2016.52,-35) (2016.55,-7) (2016.57,-30)
(2016.6,0) (2016.625,0) (2016.65,0) (2016.675,0) (2016.7,0) (2016.725,0) (2016.75,0) (2016.775,0) (2016.8,0) (2016.825,0) (2016.85,0) (2016.875,0) (2016.9,0) (2016.925,0) (2016.95,0) (2016.975,0)
(2017.0,0) (2017.025,0) (2017.05,0) (2017.075,0) (2017.1,0) (2017.125,0) (2017.15,0) (2017.175,0) (2017.2,0) (2017.225,0) (2017.25,0) (2017.275,0) (2017.3,0) (2017.325,0) (2017.35,0) (2017.375,0) (2017.4,0) (2017.425,0) (2017.45,0) (2017.475,0)
(2017.5,0) (2017.525,0) (2017.55,0) (2017.575,0) (2017.6,0) (2017.625,0) (2017.65,0) (2017.675,0) (2017.7,0) (2017.725,0) (2017.75,0) (2017.775,0) (2017.8,0) (2017.825,0) (2017.85,0) (2017.875,0) (2017.9,0) (2017.925,0) (2017.95,0) (2017.975,0)
(2018.0,0) (2018.025,0) (2018.05,0) (2018.075,0) (2018.1,0) (2018.125,0) (2018.15,0) (2018.175,0) (2018.2,0) (2018.225,0) (2018.25,0) (2018.275,0) (2018.3,0) (2018.325,0) (2018.35,0) (2018.375,0) (2018.4,0) (2018.425,0) (2018.45,0) (2018.475,0)
(2018.5,0) (2018.525,0) (2018.55,0) (2018.575,0) (2018.6,0) (2018.625,0) (2018.65,0) (2018.675,0) (2018.7,0) (2018.725,0) (2018.75,0) (2018.775,0) (2018.8,0) (2018.825,0) (2018.85,0) (2018.875,0) (2018.9,0) (2018.925,0) (2018.95,0) (2018.975,0)
(2019.0,0) (2019.025,0) (2019.05,0) (2019.075,0) (2019.1,0) (2019.125,0) (2019.15,0) (2019.175,0) (2019.2,0) (2019.225,0) (2019.25,0) (2019.275,0) (2019.3,0) (2019.325,0) (2019.35,0) (2019.375,0) (2019.4,0) (2019.425,0) (2019.45,0) (2019.475,0)
(2019.5,0) (2019.525,0) (2019.55,0) (2019.575,0) (2019.6,0) (2019.625,0) (2019.65,0) (2019.675,0) (2019.7,0) (2019.725,0) (2019.75,0) (2019.775,0) (2019.8,0) (2019.825,0) (2019.85,0) (2019.875,0) (2019.9,0) (2019.925,0) (2019.95,0) (2019.975,0)
(2020.0,0) (2020.025,0) (2020.05,0) (2020.075,0) (2020.1,0) (2020.125,0) (2020.15,0) (2020.175,0) (2020.2,0) (2020.225,0) (2020.25,0) (2020.275,0) (2020.3,0) (2020.325,0) (2020.35,0) (2020.375,0) (2020.4,0) (2020.425,0) (2020.45,0) (2020.475,0)
(2020.5,0) (2020.525,0) (2020.55,0) (2020.575,0) (2020.6,0) (2020.625,0) (2020.65,0) (2020.675,0) (2020.7,0) (2020.725,0) (2020.75,0) (2020.775,0) (2020.8,0) (2020.825,0) (2020.85,0) (2020.875,0) (2020.9,0) (2020.925,0) (2020.95,0) (2020.975,0)
(2021.0,0) (2021.025,0) (2021.05,0) (2021.075,0) (2021.1,0) (2021.125,0) (2021.15,0) (2021.175,0) (2021.2,0) (2021.225,0) (2021.25,0) (2021.275,0) (2021.3,0) (2021.325,0) (2021.35,0) (2021.375,0) (2021.4,0) (2021.425,0) (2021.45,0) (2021.475,0)
(2021.5,0) (2021.525,0) (2021.55,0) (2021.575,0) (2021.6,0) (2021.625,0) (2021.65,0) (2021.675,0) (2021.7,0) (2021.725,0) (2021.75,0) (2021.775,0) (2021.8,0) (2021.825,0) (2021.85,0) (2021.875,0) (2021.9,0) (2021.925,0) (2021.95,0) (2021.975,0)
(2022.0,0) (2022.025,0) (2022.05,0) (2022.075,0) (2022.1,0) (2022.125,0) (2022.15,0) (2022.175,0) (2022.2,0) (2022.225,0) (2022.25,0) (2022.275,0) (2022.3,0) (2022.325,0) (2022.35,0) (2022.375,0) (2022.4,0) (2022.425,0) (2022.45,0) (2022.475,0)
(2022.5,0) (2022.525,0) (2022.55,0) (2022.575,0) (2022.6,0) (2022.625,0) (2022.65,0) (2022.675,0) (2022.7,0) (2022.725,0) (2022.75,0) (2022.775,0) (2022.8,0) (2022.825,0) (2022.85,0) (2022.875,0) (2022.9,0) (2022.925,0) (2022.95,0) (2022.975,0)
(2022.99,0)
};
\addlegendentry{Rendement\_A10}
\addplot[mk, color=xred, forget plot] coordinates {
(1997.025,-76) (1997.075,-82) (1997.125,-78) (1997.175,-84) (1997.225,-79) (1997.275,-85) (1997.325,-79) (1997.375,-86) (1997.425,-80) (1997.475,-84)
(1997.525,-77) (1997.575,-81) (1997.625,-72) (1997.675,-77) (1997.725,-68) (1997.775,-72) (1997.825,-60) (1997.875,-61) (1997.925,-51) (1997.975,-57)
(1998.025,-52) (1998.075,-60) (1998.125,-50) (1998.175,-54) (1998.225,-41) (1998.275,-43) (1998.325,-30) (1998.375,-32) (1998.425,-35) (1998.475,-47)
(1998.525,-45) (1998.575,-53) (1998.625,-48) (1998.675,-56) (1998.725,-55) (1998.775,-65) (1998.825,-64) (1998.875,-74) (1998.925,-71) (1998.975,-79)
(1999.025,-73) (1999.075,-80) (1999.125,-75) (1999.175,-82) (1999.225,-77) (1999.325,-67) (1999.375,-73) (1999.425,-70) (1999.475,-78)
(1999.525,-74) (1999.575,-82) (1999.625,-78) (1999.675,-87) (1999.725,-83) (1999.775,-90) (1999.825,-84) (1999.875,-89) (1999.925,-82) (1999.975,-88)
(2000.025,-82) (2000.075,-90) (2000.125,-84) (2000.175,-91) (2000.225,-84) (2000.275,-89) (2000.325,-82) (2000.375,-89) (2000.425,-84) (2000.475,-91)
(2000.525,-85) (2000.575,-91) (2000.625,-84) (2000.675,-90) (2000.725,-83) (2000.775,-89) (2000.825,-83) (2000.875,-90) (2000.925,-83) (2000.975,-88)
(2001.025,-81) (2001.075,-88) (2001.125,-82) (2001.175,-90) (2001.225,-83) (2001.275,-89) (2001.325,-82) (2001.375,-88) (2001.425,-80) (2001.475,-85)
(2001.525,-77) (2001.575,-80) (2001.625,-71) (2001.675,-76) (2001.725,-70) (2001.775,-79) (2001.825,-75) (2001.875,-83) (2001.925,-77) (2001.975,-80)
(2002.025,-70) (2002.075,-66) (2002.125,-53) (2002.175,-53) (2002.225,-43) (2002.275,-48) (2002.325,-40) (2002.375,-46) (2002.425,-38) (2002.475,-44)
(2002.525,-40) (2002.575,-54) (2002.625,-54) (2002.675,-60) (2002.725,-53) (2002.775,-59) (2002.825,-52) (2002.875,-61) (2002.925,-55) (2002.975,-64)
(2003.025,-60) (2003.075,-72) (2003.125,-69) (2003.175,-78) (2003.225,-70) (2003.275,-71) (2003.325,-60) (2003.375,-59) (2003.425,-48) (2003.475,-56)
(2003.525,-56) (2003.575,-65) (2003.625,-62) (2003.675,-70) (2003.725,-65) (2003.775,-73) (2003.825,-66) (2003.875,-71) (2003.925,-63) (2003.975,-67)
(2004.025,-61) (2004.075,-68) (2004.125,-63) (2004.175,-73) (2004.225,-67) (2004.275,-75) (2004.325,-68) (2004.375,-73) (2004.425,-64) (2004.475,-70)
(2004.525,-62) (2004.575,-67) (2004.625,-58) (2004.675,-63) (2004.725,-52) (2004.775,-58) (2004.825,-61) (2004.875,-70) (2004.925,-67) (2004.975,-76)
(2005.025,-69) (2005.075,-75) (2005.125,-68) (2005.175,-74) (2005.225,-66) (2005.275,-72) (2005.325,-64) (2005.375,-69) (2005.425,-61) (2005.475,-67)
(2005.525,-59) (2005.575,-65) (2005.625,-59) (2005.675,-67) (2005.725,-62) (2005.775,-70) (2005.825,-66) (2005.875,-76) (2005.925,-71) (2005.975,-77)
(2006.025,-69) (2006.075,-70) (2006.125,-60) (2006.175,-66) (2006.225,-57) (2006.275,-63) (2006.325,-54) (2006.375,-59) (2006.425,-51) (2006.475,-56)
(2006.525,-47) (2006.575,-53) (2006.625,-46) (2006.675,-52) (2006.725,-45) (2006.775,-50) (2006.825,-42) (2006.875,-48) (2006.925,-40) (2006.975,-46)
(2007.025,-38) (2007.075,-44) (2007.125,-36) (2007.175,-31) (2007.225,-24) (2007.275,-30) (2007.325,-24) (2007.375,-32) (2007.425,-28) (2007.475,-37)
(2007.525,-33) (2007.575,-43) (2007.625,-37) (2007.675,-42) (2007.725,-33) (2007.775,-39) (2007.825,-31) (2007.875,-37) (2007.925,-30) (2007.975,-35)
(2008.025,-30) (2008.075,-45) (2008.125,-45) (2008.175,-55) (2008.225,-50) (2008.275,-58) (2008.325,-52) (2008.375,-60) (2008.425,-52) (2008.475,-54)
(2008.525,-45) (2008.575,-48) (2008.625,-38) (2008.675,-36) (2008.725,-24) (2008.775,-21) (2008.825,-6) (2008.875,-1) (2008.925,9) (2008.975,0)
(2009.025,3) (2009.075,-11) (2009.125,-7) (2009.175,-18) (2009.225,-17) (2009.275,-35) (2009.325,-33) (2009.375,-44) (2009.425,-35) (2009.475,-37)
(2009.525,-23) (2009.575,-25) (2009.625,-13) (2009.675,-18) (2009.725,-6) (2009.775,-11) (2009.825,1) (2009.875,-5) (2009.925,3) (2009.975,-7)
(2010.025,-1) (2010.075,-12) (2010.125,-5) (2010.175,-12) (2010.225,-7) (2010.275,-22) (2010.325,-18) (2010.375,-28) (2010.425,-20) (2010.475,-26)
(2010.525,-16) (2010.575,-21) (2010.625,-14) (2010.675,-26) (2010.725,-19) (2010.775,-27) (2010.825,-22) (2010.875,-36) (2010.925,-32) (2010.975,-42)
(2011.025,-31) (2011.075,-31) (2011.125,-19) (2011.175,-26) (2011.225,-18) (2011.275,-28) (2011.325,-25) (2011.375,-40) (2011.425,-37) (2011.475,-49)
(2011.525,-45) (2011.575,-57) (2011.625,-50) (2011.675,-56) (2011.725,-48) (2011.775,-57) (2011.825,-50) (2011.875,-59) (2011.925,-52) (2011.975,-61)
(2012.025,-54) (2012.075,-63) (2012.125,-58) (2012.175,-69) (2012.225,-65) (2012.275,-77) (2012.325,-71) (2012.375,-80) (2012.425,-73) (2012.475,-81)
(2012.525,-72) (2012.575,-77) (2012.625,-66) (2012.675,-72) (2012.725,-62) (2012.775,-70) (2012.825,-61) (2012.875,-68) (2012.925,-60) (2012.975,-70)
(2013.025,-64) (2013.075,-74) (2013.125,-65) (2013.175,-71) (2013.225,-64) (2013.275,-78) (2013.325,-73) (2013.375,-83) (2013.425,-76) (2013.475,-84)
(2013.525,-74) (2013.575,-81) (2013.625,-71) (2013.675,-76) (2013.725,-68) (2013.775,-79) (2013.825,-73) (2013.875,-83) (2013.925,-76) (2013.975,-84)
(2014.025,-76) (2014.075,-83) (2014.125,-74) (2014.175,-81) (2014.225,-72) (2014.275,-79) (2014.325,-71) (2014.375,-80) (2014.425,-73) (2014.475,-82)
(2014.525,-75) (2014.575,-84) (2014.625,-76) (2014.675,-84) (2014.725,-75) (2014.775,-83) (2014.825,-74) (2014.875,-81) (2014.925,-72) (2014.975,-78)
(2015.025,-71) (2015.075,-81) (2015.125,-74) (2015.175,-82) (2015.225,-72) (2015.275,-77) (2015.325,-65) (2015.375,-70) (2015.425,-60) (2015.475,-67)
(2015.525,-58) (2015.575,-65) (2015.625,-55) (2015.675,-62) (2015.725,-53) (2015.775,-60) (2015.825,-48) (2015.875,-49) (2015.925,-37) (2015.975,-44)
(2016.025,-36) (2016.075,-45) (2016.125,-32) (2016.175,-30) (2016.225,-17) (2016.275,-24) (2016.325,-13) (2016.375,-18) (2016.425,-15) (2016.475,-27)
};
\addlegendimage{zl, black, line width=3pt}
\addlegendentry{0,0\%}
\end{axis}
\begin{scope}[text=txtgray]
\node[anchor=base, inner sep=0pt] at (552pt,492.7pt) {\resizebox{844pt}{\height}{\fsub\fontsize{16.5pt}{18pt}\selectfont\bfseries Performance\ \ par rapport à l'indice MSCI WORLD Exc. USA Index GROSS TR\ \ du placement Oki Electric Industry Co Ltd en fonction de la date de}};
\node[anchor=base, inner sep=0pt] at (552pt,470.7pt) {\resizebox{135.5pt}{\height}{\fsub\fontsize{16.5pt}{18pt}\selectfont\bfseries début pour des durées}};
\node[anchor=base, inner sep=0pt] at (551pt,448.7pt) {\resizebox{544pt}{\height}{\fsub\fontsize{16.5pt}{18pt}\selectfont\bfseries entre 4 (A04) et 10 ans (A10). Cotations entre janv. 1997 et juil. 2026. Revenus CAPITALISES}};
\end{scope}
\end{tikzpicture}
\end{document}
